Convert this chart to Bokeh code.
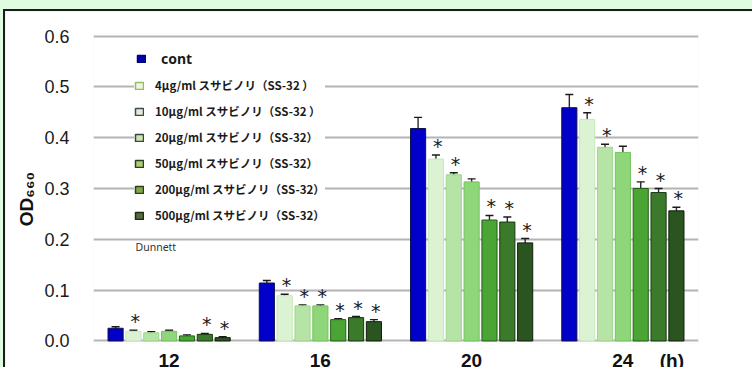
from bokeh.core.properties import value
from bokeh.embed import file_html
from bokeh.layouts import column
from bokeh.models import (ColumnDataSource, FixedTicker, Label, Legend, LegendItem,
                          NumeralTickFormatter, Range1d, TeeHead, Whisker)
from bokeh.plotting import figure
from bokeh.resources import INLINE
from bokeh.transform import dodge

# ---- data -------------------------------------------------------------
hours = ["12", "16", "20", "24"]
hour_unit = "(h)"

series_labels = [
    "cont",
    "4μg/ml スサビノリ（SS-32 ）",
    "10μg/ml スサビノリ（SS-32 ）",
    "20μg/ml スサビノリ（SS-32）",
    "50μg/ml スサビノリ（SS-32）",
    "200μg/ml スサビノリ（SS-32）",
    "500μg/ml スサビノリ（SS-32）",
]

od_cont = [0.025, 0.114, 0.418, 0.459]
od_4 = [0.019, 0.089, 0.358, 0.436]
od_10 = [0.016, 0.069, 0.327, 0.381]
od_20 = [0.019, 0.069, 0.313, 0.371]
od_50 = [0.010, 0.042, 0.238, 0.300]
od_200 = [0.013, 0.046, 0.234, 0.292]
od_500 = [0.0065, 0.038, 0.193, 0.256]

sd_cont = [0.003, 0.005, 0.022, 0.026]
sd_4 = [0.002, 0.003, 0.008, 0.013]
sd_10 = [0.002, 0.002, 0.004, 0.006]
sd_20 = [0.002, 0.002, 0.006, 0.012]
sd_50 = [0.002, 0.002, 0.009, 0.013]
sd_200 = [0.002, 0.002, 0.010, 0.008]
sd_500 = [0.002, 0.004, 0.0085, 0.007]

# Dunnett significance vs. control
sig_cont = [False, False, False, False]
sig_4 = [True, True, True, True]
sig_10 = [False, True, True, True]
sig_20 = [False, True, False, False]
sig_50 = [False, True, True, True]
sig_200 = [True, True, True, True]
sig_500 = [True, True, True, True]

means = [od_cont, od_4, od_10, od_20, od_50, od_200, od_500]
errors = [sd_cont, sd_4, sd_10, sd_20, sd_50, sd_200, sd_500]
signif = [sig_cont, sig_4, sig_10, sig_20, sig_50, sig_200, sig_500]

# ---- styling ----------------------------------------------------------
bar_fill = ["#0000c8", "#dbf2d3", "#b6e3a6", "#8fd579", "#4ba534", "#3a7a2a", "#2a5420"]
bar_line = ["#10104a", "#c6e8bc", "#9ed68c", "#74c460", "#24601a", "#173812", "#0e1e0a"]
swatch_fill = ["#0000b0", "#eef5e2", "#e2ecd8", "#cfe3b6", "#a8d070", "#80a848", "#556d3a"]
swatch_line = ["#000070", "#8fc060", "#404848", "#384838", "#303c28", "#303c20", "#202818"]

bar_step = 0.118
bar_width = 0.1
unit_pos = 3.824   # where the hour unit sits along the group axis
nbsp = "\u00a0"

# each hour group occupies one unit of the x axis, centred on k + 0.5
group_pos = [k + 0.5 for k in range(len(hours))]

p = figure(
    x_range=Range1d(0, len(hours)),
    y_range=Range1d(-0.005, 0.605),
    frame_width=603, frame_height=308,
    min_border_left=88, min_border_right=56, min_border_top=22, min_border_bottom=0,
    output_backend="svg", toolbar_location=None,
    background_fill_color="white", border_fill_color="white",
)
p.outline_line_color = None
p.styles = {"border-top": "2px solid #1c1c1c", "border-left": "2px solid #1c1c1c"}

# x axis: hour labels under each group, unit beside the last one
x_labels = {t: h for t, h in zip(group_pos, hours)}
x_labels[unit_pos] = hour_unit
p.xaxis.ticker = FixedTicker(ticks=group_pos + [unit_pos])
p.xaxis.major_label_overrides = x_labels
p.xaxis.axis_line_color = None
p.xaxis.major_tick_line_color = None
p.xaxis.minor_tick_line_color = None
p.xaxis.major_tick_out = 0
p.xaxis.major_tick_in = 0
p.xaxis.major_label_text_font = "Liberation Sans"
p.xaxis.major_label_text_font_style = "bold"
p.xaxis.major_label_text_font_size = "19px"
p.xaxis.major_label_text_color = "#111111"
p.xaxis.major_label_standoff = 6

# y axis
ticks = [0.0, 0.1, 0.2, 0.3, 0.4, 0.5, 0.6]
p.yaxis.ticker = FixedTicker(ticks=ticks)
p.yaxis.formatter = NumeralTickFormatter(format="0.0")
p.yaxis.axis_line_color = None
p.yaxis.major_tick_line_color = None
p.yaxis.minor_tick_line_color = None
p.yaxis.major_tick_out = 0
p.yaxis.major_label_text_font = "Liberation Sans"
p.yaxis.major_label_text_font_size = "18px"
p.yaxis.major_label_text_color = "#1a1a1a"
p.yaxis.major_label_standoff = 24
p.yaxis.axis_label = "OD\u2086\u2086\u2080" + nbsp * 4
p.yaxis.axis_label_text_font = "Liberation Sans"
p.yaxis.axis_label_text_font_style = "bold"
p.yaxis.axis_label_text_font_size = "19px"
p.yaxis.axis_label_text_color = "#111111"
p.yaxis.axis_label_standoff = 4

p.xgrid.grid_line_color = None
p.ygrid.ticker = FixedTicker(ticks=ticks)
p.ygrid.grid_line_color = "#b4b4b4"
p.ygrid.grid_line_width = 2

# bars, error bars and significance marks
for i, (m, e, s) in enumerate(zip(means, errors, signif)):
    offset = (i - 3) * bar_step
    src = ColumnDataSource(dict(
        pos=group_pos,
        top=m,
        upper=[a + b for a, b in zip(m, e)],
        lower=[a - b for a, b in zip(m, e)],
        star=["*" if flag else "" for flag in s],
    ))
    p.vbar(x=dodge("pos", offset), top="top", width=bar_width,
           source=src, fill_color=bar_fill[i], line_color=bar_line[i], line_width=1)
    wh = Whisker(source=src, base=dodge("pos", offset),
                 upper="upper", lower="lower", line_color="#2a2a2a", line_width=1.4,
                 upper_head=TeeHead(size=8, line_color="#1a1a1a", line_width=1.4),
                 lower_head=TeeHead(size=8, line_color="#2a2a2a", line_width=1.4))
    p.add_layout(wh)
    p.text(x=dodge("pos", offset + 0.012), y="upper", text="star",
           source=src, text_font=value("DejaVu Sans"), text_font_size="19px",
           text_color="#1a1a1a", text_align="center", text_baseline="middle", y_offset=-9)

# legend swatches (one empty-height entry each, so only the legend shows them)
swatches = []
for i in range(len(series_labels)):
    r = p.vbar(x=[group_pos[0]], top=[float("nan")], width=bar_width,
               fill_color=swatch_fill[i], line_color=swatch_line[i], line_width=1.5)
    swatches.append(r)

leg_cont = Legend(
    items=[LegendItem(label=series_labels[0], renderers=[swatches[0]])],
    location=(43, 275), orientation="vertical",
    glyph_width=10, glyph_height=9, label_height=18, label_standoff=15,
    padding=8, margin=0, spacing=0,
    label_text_font="Noto Sans", label_text_font_style="bold", label_text_font_size="14px",
    label_text_color="#1a1a1a",
    border_line_color=None, background_fill_color="white", background_fill_alpha=1.0,
)
leg_main = Legend(
    items=[LegendItem(label=series_labels[k], renderers=[swatches[k]]) for k in range(1, 7)],
    location=(41, 119), orientation="vertical",
    glyph_width=10, glyph_height=9, label_height=18, label_width=166, label_standoff=11,
    padding=8, margin=0, spacing=8,
    label_text_font="Noto Sans CJK JP", label_text_font_style="bold",
    label_text_font_size="11.5px", label_text_color="#1a1a1a",
    border_line_color=None, background_fill_color="white", background_fill_alpha=1.0,
)
p.add_layout(leg_cont)
p.add_layout(leg_main)

p.add_layout(Label(x=42, y=97, x_units="screen", y_units="screen", text="Dunnett",
                   text_font="Noto Sans", text_font_size="10.5px", text_color="#333333",
                   text_baseline="middle"))

root = column(p, styles={"background-color": "#e0fce0", "padding-top": "9px",
                         "padding-left": "3px", "overflow": "hidden"})

open("out.html", "w").write(file_html(root, INLINE))
